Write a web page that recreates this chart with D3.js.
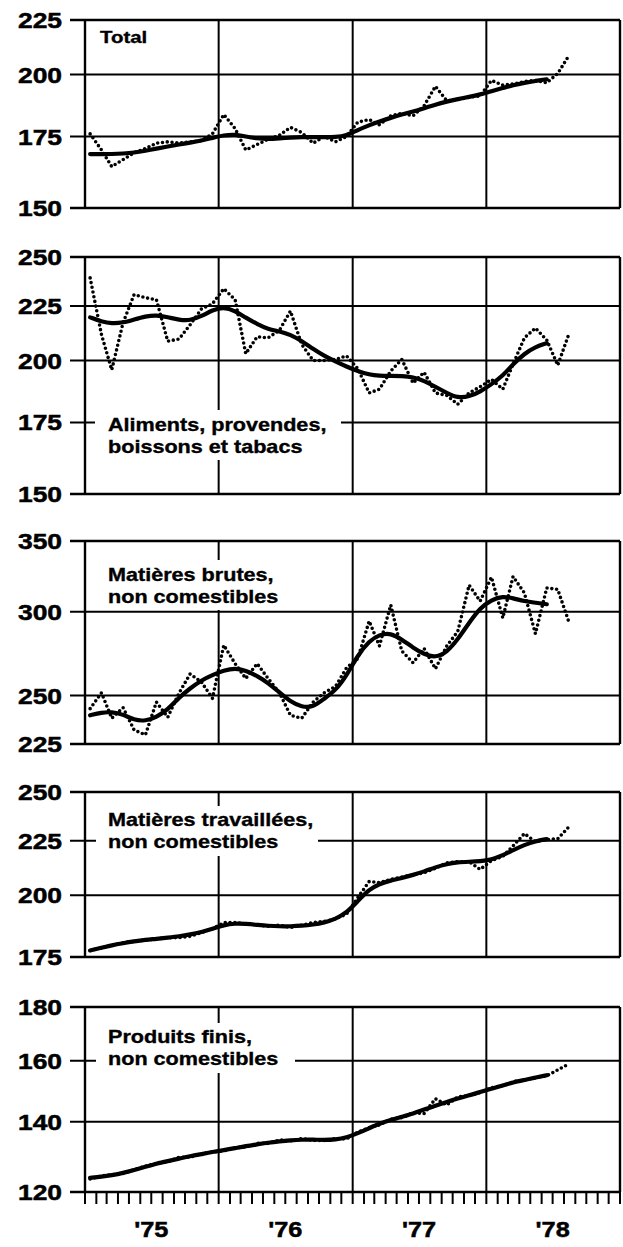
<!DOCTYPE html>
<html><head><meta charset="utf-8">
<script src="https://cdn.jsdelivr.net/npm/d3@7"></script>
<style>body{margin:0;background:#fff} svg{display:block}</style>
</head><body><svg id="c" width="623" height="1247"></svg>
<script>
// ---------- DATA ----------
const yearLabels = ["'75", "'76", "'77", "'78"];
const startYear = 1975;

const totalMonthly = [176, 170, 164, 166.5, 169, 170.5, 172.5, 173, 172.5, 173, 173.5, 176,
  183.5, 178, 170, 172, 174, 175.5, 178.5, 176.5, 172.5, 175, 173, 175,
  180.5, 181.5, 179.5, 183, 184, 183, 187, 195, 189, 189.5, 190.5, 191,
  197.5, 195.5, 196, 197, 197.5, 196.5, 200.5, 208.5];
const totalTrend = [168.5, 168.5, 168.5, 168.7, 169, 169.7, 170.5, 171.3, 172, 172.7, 173.5, 174.5,
  175.5, 175.8, 175, 174.3, 174, 174.3, 174.6, 174.8, 174.8, 174.8, 174.8, 175.3,
  177.5, 179.3, 180.8, 182.2, 183.5, 184.7, 186, 187.5, 188.7, 189.7, 190.6, 191.6,
  193, 194.3, 195.5, 196.5, 197.3, 198];

const alimMonthly = [239, 211.5, 196, 217, 230.5, 229, 228, 208.5, 209.5, 216, 223.5, 226,
  233.5, 228, 203, 210.5, 210, 213.5, 222.5, 207, 200, 200, 200.5, 202,
  196.5, 186.5, 188, 195.5, 200.5, 190.5, 195, 186.5, 185.5, 182, 186.5, 189,
  192, 188, 198.5, 210, 214.5, 209, 198, 212];
const alimTrend = [219.5, 217.5, 216.6, 217, 218.5, 220, 220.6, 219.6, 218.3, 218, 220, 223,
  224.5, 222.6, 219.3, 216.4, 214, 213, 211.5, 208.6, 205, 202, 199.6, 197.4,
  195.5, 194, 193.5, 193.5, 193.5, 193, 191.5, 189, 186.5, 184.5, 185, 187,
  190, 193.5, 198.5, 203, 206, 207.6];

const brutMonthly = [243, 251.5, 238, 243.5, 232, 229.5, 246.5, 238.5, 251.5, 262, 257.5, 248.5,
  279, 268, 259.5, 268, 259.5, 251.5, 239.5, 238, 246.5, 251.5, 255, 265.5,
  271, 294, 278.5, 304.5, 275.5, 268.5, 277, 265, 278.5, 287.5, 318, 307,
  323.5, 296, 324, 312.5, 286, 316, 315, 293];
const brutTrend = [239.5, 241, 241.3, 240, 237, 236.5, 238.5, 242.5, 249, 254, 258.5, 261.5,
  264, 265.5, 264, 261, 257, 251.7, 246.8, 243.8, 243.8, 248.3, 252.8, 261,
  273, 281.5, 285.5, 286.5, 282.5, 277.5, 273.5, 271.5, 274.7, 282.5, 293, 302.6,
  308, 310.3, 309, 307, 306, 305];

const travMonthly = [177.5, 178.5, 179.5, 180.5, 181, 181.5, 182, 182.5, 182.5, 183, 184.5, 186,
  188.5, 188.5, 188, 187.5, 187, 187.5, 186.5, 187.5, 188.5, 189, 190, 192,
  199, 206, 205.5, 207, 208, 209, 210, 212, 214.5, 215, 215, 211.5,
  215.5, 217.5, 222.5, 228.5, 224.5, 225.5, 226, 232];
const travTrend = [177.5, 178.5, 179.5, 180.3, 181, 181.6, 182, 182.5, 183, 183.7, 184.7, 186,
  187.5, 188.2, 188, 187.6, 187.2, 187, 187, 187.2, 187.7, 188.5, 190, 192.5,
  197.5, 202.5, 205, 206.5, 207.5, 209, 210.5, 212.5, 214, 214.8, 215, 215.2,
  216, 218, 220.5, 223, 224.8, 225.8];

const finMonthly = [123.5, 124.3, 124.6, 125, 126, 127, 127.8, 128.2, 129.5, 129.5, 130.5, 131,
  131.3, 132.2, 132.5, 133.5, 133.5, 134.5, 134.2, 134.9, 134.4, 134.3, 134.9, 134.8,
  136.8, 138.2, 139, 140.8, 141.2, 142.8, 142.5, 147.2, 145.2, 147.8, 148.2, 149.2,
  150.8, 151.5, 152.8, 153.3, 154.2, 154.8, 156.8, 158.9];
const finTrend = [123.8, 124.1, 124.5, 125.1, 125.9, 126.8, 127.7, 128.4, 129.1, 129.8, 130.4, 131,
  131.5, 132.1, 132.7, 133.2, 133.7, 134.1, 134.4, 134.6, 134.6, 134.5, 134.6, 135.2,
  136.5, 138, 139.4, 140.5, 141.5, 142.5, 143.8, 145, 146.2, 147.3, 148.3, 149.4,
  150.5, 151.6, 152.6, 153.4, 154.2, 155];

const panelNames = [
  ["Total"],
  ["Aliments, provendes,", "boissons et tabacs"],
  ["Matières brutes,", "non comestibles"],
  ["Matières travaillées,", "non comestibles"],
  ["Produits finis,", "non comestibles"]
];
const panelTicks = [
  [150, 175, 200, 225],
  [150, 175, 200, 225, 250],
  [225, 250, 300, 350],
  [175, 200, 225, 250],
  [120, 140, 160, 180]
];
const monthlySeries = [totalMonthly, alimMonthly, brutMonthly, travMonthly, finMonthly];
const trendSeries = [totalTrend, alimTrend, brutTrend, travTrend, finTrend];

// ---------- LAYOUT ----------
const layout = [
  {top: 20,   bottom: 208,  label: {x: 100, y: 37, box: null}},
  {top: 257,  bottom: 494,  label: {x: 108, y: 425, box: [95, 410, 246, 50]}},
  {top: 541,  bottom: 744,  label: {x: 108, y: 575, box: [95, 560, 195, 50]}},
  {top: 792,  bottom: 957,  label: {x: 108, y: 820, box: [96, 806, 222, 50]}},
  {top: 1007, bottom: 1192, label: {x: 108, y: 1037, box: [96, 1023, 199, 50]}}
];
const L = 85, R = 620, TICKX = 70;

const svg = d3.select("#c");
const x = d3.scaleTime()
  .domain([new Date(startYear, 0, 1), new Date(startYear + 4, 0, 1)])
  .range([L, R]);
const monthDate = i => new Date(startYear, i, 15);
const FONT = "'Liberation Sans', Arial, Helvetica, sans-serif";

panelNames.forEach((names, p) => {
  const lay = layout[p];
  const ticks = panelTicks[p];
  const y = d3.scaleLog().domain(d3.extent(ticks)).range([lay.bottom, lay.top]);
  const g = svg.append("g");

  // horizontal grid (extend left as ticks)
  g.selectAll("line.h").data(ticks).join("line")
    .attr("x1", TICKX).attr("x2", R)
    .attr("y1", d => y(d)).attr("y2", d => y(d))
    .attr("stroke", "#000").attr("stroke-width", d => (d === ticks[0] || d === ticks[ticks.length-1]) ? 2.4 : 2);

  // vertical year lines + frame
  const yb = d3.range(0, 5).map(k => new Date(startYear + k, 0, 1));
  g.selectAll("line.v").data(yb).join("line")
    .attr("x1", d => x(d)).attr("x2", d => x(d))
    .attr("y1", y(ticks[ticks.length-1])).attr("y2", y(ticks[0]))
    .attr("stroke", "#000").attr("stroke-width", (d, i) => (i === 0 || i === 4) ? 2.4 : 2);

  // tick labels
  ticks.forEach(t => {
    g.append("text")
      .attr("transform", `translate(62,${y(t) + 8}) scale(1.2,1)`)
      .attr("text-anchor", "end")
      .attr("font-family", FONT).attr("font-weight", "bold").attr("font-size", 22)
      .attr("stroke", "#000").attr("stroke-width", 0.5)
      .text(t);
  });

  // label background
  if (lay.label.box) {
    const b = lay.label.box;
    g.append("rect").attr("x", b[0]).attr("y", b[1]).attr("width", b[2]).attr("height", b[3]).attr("fill", "#fff");
  }
  names.forEach((n, k) => {
    g.append("text")
      .attr("transform", `translate(${lay.label.x},${lay.label.y + 6 + k * 22}) scale(1.2,1)`)
      .attr("font-family", FONT).attr("font-weight", "bold").attr("font-size", p === 0 ? 17 : 18)
      .attr("stroke", "#000").attr("stroke-width", 0.35)
      .text(n);
  });

  // data
  g.append("path").datum(monthlySeries[p])
    .attr("d", d3.line().x((d, i) => x(monthDate(i))).y(d => y(d)).curve(d3.curveLinear))
    .attr("fill", "none").attr("stroke", "#000").attr("stroke-width", 3.6)
    .attr("stroke-linecap", "round").attr("stroke-dasharray", "0 4.8");
  g.append("path").datum(trendSeries[p])
    .attr("d", d3.line().x((d, i) => x(monthDate(i))).y(d => y(d)).curve(d3.curveBasis))
    .attr("fill", "none").attr("stroke", "#000").attr("stroke-width", 4.2)
    .attr("stroke-linecap", "round").attr("stroke-linejoin", "round");
});

// bottom month ticks
const lastY = layout[4].bottom;
const monthTicks = d3.range(0, 49).map(i => new Date(startYear, i, 1));
svg.append("g").selectAll("line").data(monthTicks).join("line")
  .attr("x1", d => x(d)).attr("x2", d => x(d))
  .attr("y1", lastY).attr("y2", lastY + 12)
  .attr("stroke", "#000").attr("stroke-width", 2);

svg.append("g").selectAll("text").data(yearLabels).join("text")
  .attr("transform", (d, i) => `translate(${x(new Date(startYear + i, 6, 1))},${lastY + 45}) scale(1.15,1)`)
  .attr("text-anchor", "middle")
  .attr("font-family", FONT).attr("font-weight", "bold").attr("font-size", 22)
  .attr("stroke", "#000").attr("stroke-width", 0.5)
  .text(d => d);
</script></body></html>
